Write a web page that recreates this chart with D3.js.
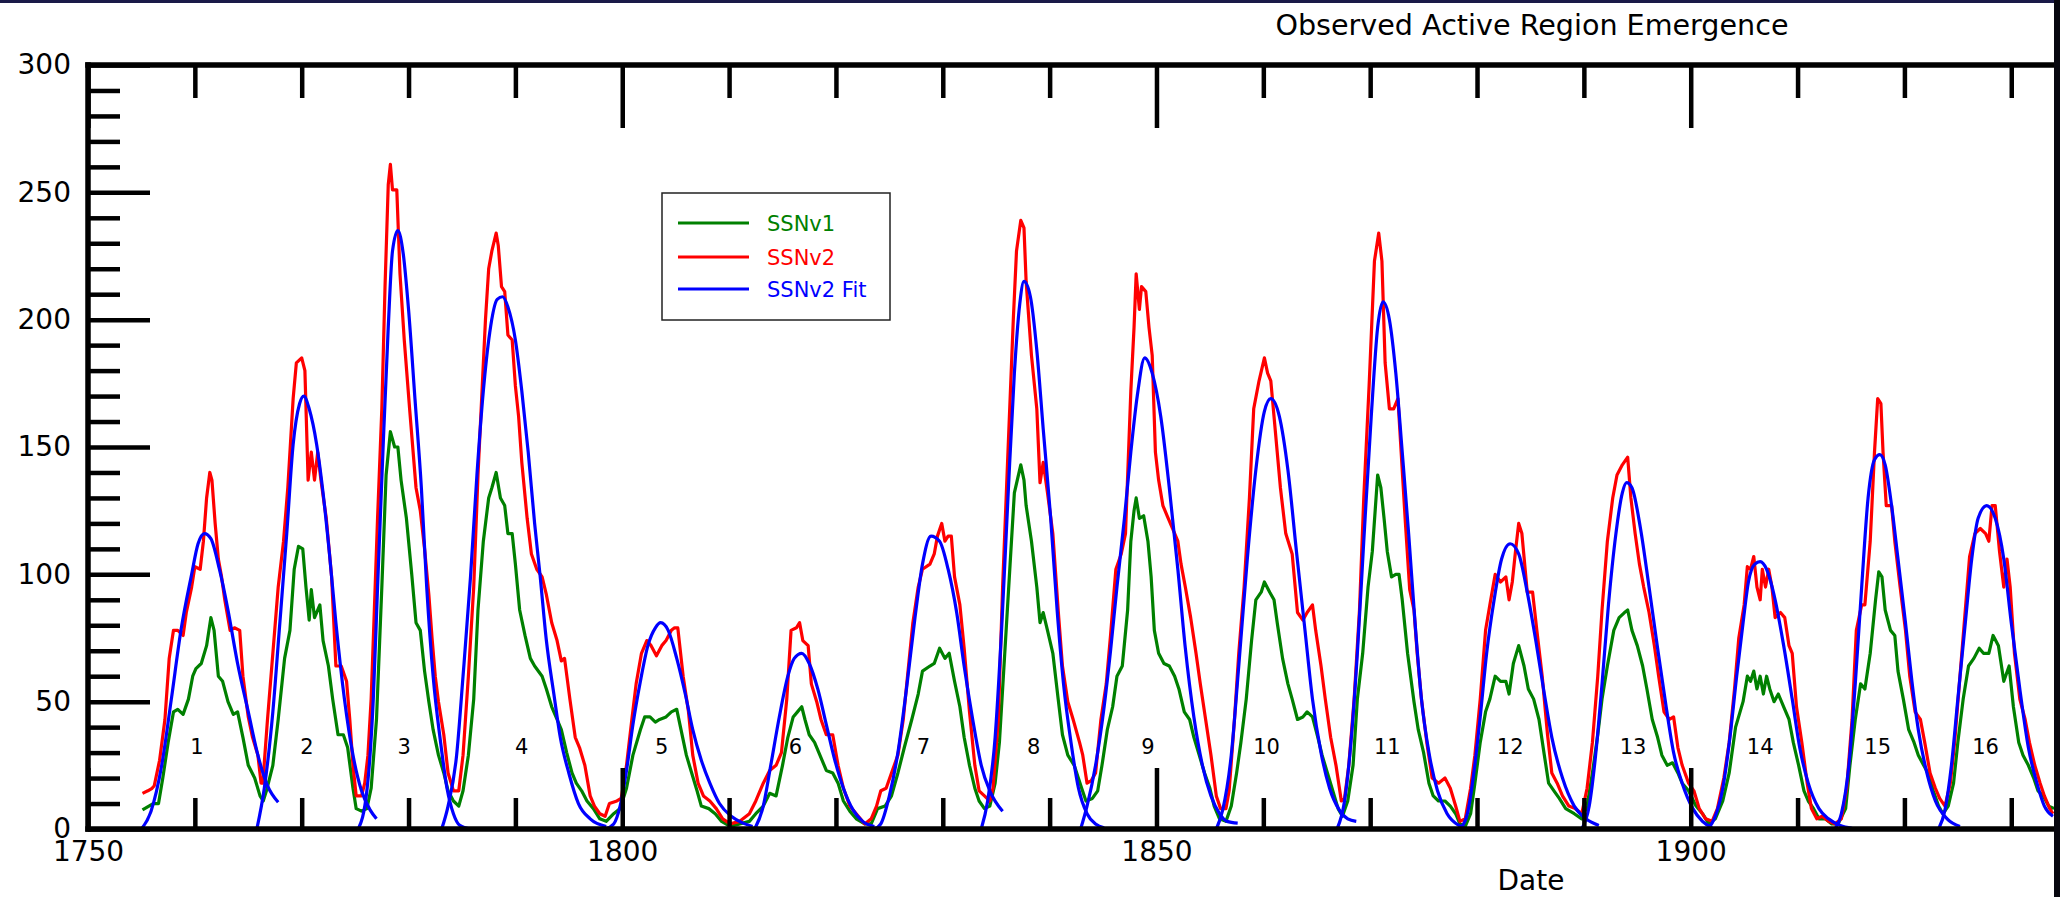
<!DOCTYPE html>
<html><head><meta charset="utf-8">
<script src="https://cdn.jsdelivr.net/npm/d3@7"></script>
<style>body{margin:0;background:#fff;overflow:hidden}svg{display:block}</style>
</head><body><svg id="c" width="2060" height="897"></svg>
<script>
// ---------------- DATA ----------------
const chartTitle = "Observed Active Region Emergence";
const xLabel = "Date";
const xMajorTicks = [1750, 1800, 1850, 1900];
const xMinorTicks = [1760,1770,1780,1790,1810,1820,1830,1840,1860,1870,1880,1890,1910,1920,1930];
const yMajorTicks = [0, 50, 100, 150, 200, 250, 300];
const yMinorTicks = [10,20,30,40,60,70,80,90,110,120,130,140,160,170,180,190,210,220,230,240,260,270,280,290];
const seriesNames = ["SSNv1", "SSNv2", "SSNv2 Fit"];
const cycleNumbers = [1,2,3,4,5,6,7,8,9,10,11,12,13,14,15,16];
const cycleLabelYears = [1760.2,1770.5,1779.6,1790.6,1803.7,1816.2,1828.2,1838.5,1849.2,1860.3,1871.6,1883.1,1894.6,1906.5,1917.5,1927.6];

// SSNv2 (red) [year, value]
const ssnv2 = [[1755.1,14],[1755.6,15],[1756.0,16],[1756.2,17],[1756.7,27],[1757.2,43],[1757.6,67],[1758.0,78],[1758.4,78],[1758.9,76],[1759.2,85],[1759.7,95],[1760.0,103],[1760.5,102],[1760.8,113],[1761.1,130],[1761.4,140],[1761.6,137],[1761.9,120],[1762.2,106],[1762.5,99],[1762.8,90],[1763.3,78],[1763.7,79],[1764.2,78],[1764.5,60],[1765.0,44],[1765.4,36],[1765.9,29],[1766.2,18],[1766.4,18],[1766.5,26],[1766.8,43],[1767.3,69],[1767.8,95],[1768.3,113],[1768.7,134],[1769.2,169],[1769.5,183],[1770.0,185],[1770.3,180],[1770.6,137],[1770.9,148],[1771.2,137],[1771.5,148],[1771.8,137],[1772.3,122],[1772.8,99],[1773.2,64],[1773.7,64],[1774.2,58],[1774.5,43],[1774.8,25],[1775.1,13],[1775.6,13],[1775.9,18],[1776.2,29],[1776.5,51],[1776.8,86],[1777.1,122],[1777.5,165],[1777.8,213],[1778.1,253],[1778.3,261],[1778.5,251],[1778.9,251],[1779.2,218],[1779.6,192],[1780.1,165],[1780.7,134],[1781.1,125],[1781.5,110],[1781.9,92],[1782.2,75],[1782.5,60],[1782.8,50],[1783.3,37],[1783.7,22],[1784.2,15],[1784.7,15],[1785.1,29],[1785.6,60],[1786.1,95],[1786.5,139],[1786.9,174],[1787.2,200],[1787.5,220],[1787.8,227],[1788.2,234],[1788.4,229],[1788.7,213],[1789.0,211],[1789.3,194],[1789.7,192],[1790.0,174],[1790.3,162],[1790.6,144],[1791.1,122],[1791.5,108],[1792.0,102],[1792.5,99],[1792.9,92],[1793.4,81],[1793.9,74],[1794.3,66],[1794.6,67],[1795.1,51],[1795.6,36],[1796.0,32],[1796.5,25],[1797.0,13],[1797.4,9],[1797.9,6],[1798.4,5],[1798.8,10],[1799.5,11],[1799.9,12],[1800.4,25],[1800.9,43],[1801.3,57],[1801.8,69],[1802.3,74],[1802.7,72],[1803.2,68],[1803.7,72],[1804.1,74],[1804.6,78],[1804.9,79],[1805.2,79],[1805.7,60],[1806.2,46],[1806.6,29],[1807.1,18],[1807.6,13],[1808.2,11],[1808.8,8],[1809.4,4],[1810.1,2],[1811.0,3],[1811.9,6],[1812.5,11],[1813.2,18],[1813.8,23],[1814.4,25],[1814.9,30],[1815.4,51],[1815.8,78],[1816.3,79],[1816.6,81],[1816.9,74],[1817.4,72],[1817.7,57],[1818.2,50],[1818.6,43],[1819.1,37],[1819.7,37],[1820.2,25],[1820.7,16],[1821.3,9],[1821.9,6],[1822.7,2],[1823.3,4],[1823.8,9],[1824.2,15],[1824.7,16],[1825.2,22],[1825.8,29],[1826.3,43],[1826.7,60],[1827.2,81],[1827.7,95],[1828.1,102],[1828.8,104],[1829.2,108],[1829.5,115],[1829.9,120],[1830.2,113],[1830.5,115],[1830.8,115],[1831.1,99],[1831.6,88],[1832.0,71],[1832.5,46],[1833.0,25],[1833.4,15],[1833.9,13],[1834.4,11],[1834.7,16],[1835.2,43],[1835.6,95],[1836.1,148],[1836.6,200],[1836.9,227],[1837.3,239],[1837.6,236],[1837.8,215],[1838.3,186],[1838.8,165],[1839.1,136],[1839.4,144],[1839.8,132],[1840.3,116],[1840.8,86],[1841.2,64],[1841.7,50],[1842.2,43],[1842.8,34],[1843.1,29],[1843.5,18],[1843.9,19],[1844.3,22],[1844.8,43],[1845.3,57],[1845.7,76],[1846.2,102],[1846.7,108],[1847.1,116],[1847.6,172],[1847.9,197],[1848.1,218],[1848.4,204],[1848.6,213],[1849.0,211],[1849.3,197],[1849.6,186],[1849.9,148],[1850.2,137],[1850.6,127],[1851.0,123],[1851.5,118],[1852.0,113],[1852.3,104],[1852.7,95],[1853.2,83],[1853.7,69],[1854.1,57],[1854.6,43],[1855.1,29],[1855.6,13],[1856.0,8],[1856.5,8],[1856.8,15],[1857.3,43],[1857.7,69],[1858.2,95],[1858.7,130],[1859.1,165],[1859.6,176],[1860.1,185],[1860.4,179],[1860.7,176],[1861.0,162],[1861.3,148],[1861.6,134],[1862.1,116],[1862.7,108],[1863.2,85],[1863.7,82],[1864.1,85],[1864.6,88],[1864.9,78],[1865.4,64],[1865.8,51],[1866.3,36],[1866.8,25],[1867.3,11],[1867.6,12],[1868.0,25],[1868.5,51],[1869.0,86],[1869.4,130],[1869.9,174],[1870.4,223],[1870.8,234],[1871.1,223],[1871.4,183],[1871.8,165],[1872.2,165],[1872.6,169],[1872.9,148],[1873.3,120],[1873.7,94],[1874.1,86],[1874.4,69],[1874.8,51],[1875.3,34],[1875.8,20],[1876.4,18],[1877.0,20],[1877.5,16],[1878.0,9],[1878.4,3],[1878.9,4],[1879.4,16],[1879.8,29],[1880.3,51],[1880.8,78],[1881.2,88],[1881.7,100],[1882.2,97],[1882.7,99],[1883.0,90],[1883.3,97],[1883.6,109],[1883.9,120],[1884.2,116],[1884.7,93],[1885.2,93],[1885.6,78],[1886.1,60],[1886.6,37],[1887.0,22],[1887.5,18],[1888.0,13],[1888.6,9],[1889.2,8],[1889.8,6],[1890.3,16],[1890.8,34],[1891.3,60],[1891.7,86],[1892.2,113],[1892.7,130],[1893.1,139],[1893.6,143],[1894.1,146],[1894.4,130],[1894.8,116],[1895.2,104],[1895.6,95],[1896.1,85],[1896.6,72],[1897.0,60],[1897.5,46],[1898.0,43],[1898.4,44],[1898.8,32],[1899.2,25],[1899.8,18],[1900.3,15],[1900.8,8],[1901.4,4],[1902.0,3],[1902.5,8],[1903.1,20],[1903.6,34],[1904.1,55],[1904.5,75],[1905.0,88],[1905.3,103],[1905.6,102],[1905.9,107],[1906.2,95],[1906.5,90],[1906.7,102],[1907.0,95],[1907.3,102],[1907.6,95],[1907.9,83],[1908.4,85],[1908.8,83],[1909.2,72],[1909.5,69],[1909.9,48],[1910.4,34],[1910.9,18],[1911.3,8],[1911.8,4],[1912.3,5],[1912.9,3],[1913.5,2],[1914.1,4],[1914.6,16],[1915.1,43],[1915.5,78],[1916.0,88],[1916.3,88],[1916.8,113],[1917.2,148],[1917.5,169],[1917.8,167],[1918.0,148],[1918.3,127],[1918.8,127],[1919.1,113],[1919.6,95],[1920.1,78],[1920.5,60],[1921.0,46],[1921.5,43],[1921.9,34],[1922.4,22],[1922.9,16],[1923.3,12],[1923.8,9],[1924.3,18],[1924.7,34],[1925.2,60],[1925.7,86],[1926.1,107],[1926.6,116],[1927.1,118],[1927.6,116],[1927.9,113],[1928.2,127],[1928.5,127],[1928.9,109],[1929.3,95],[1929.6,106],[1929.9,95],[1930.3,69],[1930.8,51],[1931.3,43],[1931.7,34],[1932.2,25],[1932.7,18],[1933.1,13],[1933.6,8],[1933.9,6]];

// SSNv1 (green) [year, value]
const ssnv1 = [[1755.1,7.5],[1756.1,10],[1756.6,10],[1757.0,20],[1757.5,34],[1758.0,46],[1758.4,47],[1758.9,45],[1759.4,51],[1759.8,60],[1760.1,63],[1760.6,65],[1761.1,72],[1761.5,83],[1761.8,78],[1762.2,60],[1762.6,58],[1763.1,50],[1763.6,45],[1764.0,46],[1764.5,36],[1765.0,25],[1765.6,20],[1766.1,13],[1766.4,11],[1766.7,15],[1767.3,25],[1767.8,43],[1768.4,67],[1768.9,78],[1769.3,102],[1769.7,111],[1770.1,110],[1770.4,95],[1770.7,82],[1770.9,94],[1771.2,83],[1771.7,88],[1772.0,74],[1772.5,64],[1772.9,51],[1773.4,37],[1773.9,37],[1774.3,32],[1774.8,16],[1775.1,8],[1775.6,7],[1776.1,8],[1776.5,16],[1777.0,43],[1777.5,95],[1777.9,139],[1778.3,156],[1778.7,150],[1779.0,150],[1779.3,137],[1779.8,122],[1780.3,100],[1780.7,81],[1781.1,78],[1781.5,62],[1781.9,50],[1782.3,39],[1782.8,29],[1783.3,22],[1783.7,15],[1784.2,11],[1784.7,9],[1785.1,15],[1785.6,29],[1786.1,51],[1786.5,86],[1787.0,113],[1787.5,130],[1787.8,134],[1788.2,140],[1788.6,130],[1789.0,127],[1789.3,116],[1789.7,116],[1790.0,104],[1790.4,86],[1790.9,76],[1791.4,67],[1791.8,64],[1792.5,60],[1792.9,55],[1793.4,48],[1793.9,43],[1794.3,39],[1794.8,30],[1795.3,22],[1795.7,18],[1796.2,15],[1796.7,11],[1797.3,8],[1797.9,4],[1798.5,3],[1799.2,6],[1799.8,8],[1800.4,16],[1801.0,29],[1801.7,39],[1802.1,44],[1802.6,44],[1803.1,42],[1803.5,43],[1804.1,44],[1804.6,46],[1805.1,47],[1805.5,39],[1806.0,29],[1806.5,22],[1807.0,15],[1807.4,9],[1808.1,8],[1808.7,6],[1809.3,3],[1810.1,1],[1811.0,2],[1811.9,3],[1812.5,6],[1813.2,9],[1813.8,14],[1814.4,13],[1815.0,25],[1815.5,36],[1816.0,44],[1816.4,46],[1816.8,48],[1817.1,43],[1817.5,37],[1818.0,34],[1818.5,29],[1819.1,23],[1819.7,22],[1820.2,18],[1820.7,11],[1821.3,7],[1821.9,4],[1822.7,2],[1823.3,2],[1823.9,8],[1824.6,9],[1825.2,13],[1825.8,22],[1826.4,32],[1827.1,43],[1827.7,53],[1828.1,62],[1828.8,64],[1829.2,65],[1829.7,71],[1830.2,67],[1830.6,69],[1831.1,58],[1831.6,48],[1832.0,36],[1832.5,25],[1833.0,16],[1833.4,11],[1833.9,8],[1834.4,9],[1834.9,18],[1835.3,34],[1835.8,69],[1836.3,104],[1836.7,132],[1837.3,143],[1837.6,137],[1837.8,127],[1838.3,113],[1838.8,95],[1839.1,81],[1839.4,85],[1839.8,78],[1840.3,69],[1840.8,51],[1841.2,37],[1841.7,29],[1842.3,25],[1843.0,16],[1843.4,11],[1844.0,12],[1844.5,15],[1844.9,25],[1845.4,39],[1845.9,48],[1846.3,60],[1846.8,64],[1847.3,86],[1847.6,113],[1847.9,125],[1848.1,130],[1848.4,122],[1848.8,123],[1849.2,113],[1849.5,99],[1849.8,78],[1850.2,69],[1850.7,65],[1851.2,64],[1851.7,60],[1852.1,55],[1852.6,46],[1853.1,43],[1853.5,36],[1854.0,29],[1854.5,22],[1855.0,16],[1855.4,9],[1855.9,4],[1856.5,3],[1857.0,9],[1857.5,22],[1857.9,34],[1858.4,51],[1858.9,74],[1859.3,90],[1859.8,93],[1860.1,97],[1860.6,93],[1861.0,90],[1861.3,81],[1861.8,67],[1862.3,57],[1862.7,51],[1863.2,43],[1863.7,44],[1864.1,46],[1864.6,44],[1865.1,36],[1865.5,29],[1866.0,22],[1866.5,15],[1867.0,8],[1867.4,5],[1867.9,11],[1868.4,25],[1868.8,51],[1869.3,69],[1869.8,95],[1870.2,109],[1870.7,139],[1871.0,134],[1871.3,122],[1871.6,109],[1872.0,99],[1872.4,100],[1872.7,100],[1873.0,90],[1873.5,69],[1874.1,50],[1874.5,39],[1875.0,30],[1875.5,18],[1875.9,13],[1876.4,11],[1877.0,11],[1877.5,9],[1878.0,6],[1878.4,2],[1878.9,1],[1879.4,6],[1879.8,18],[1880.3,34],[1880.8,46],[1881.2,51],[1881.7,60],[1882.2,58],[1882.7,58],[1883.0,53],[1883.4,65],[1883.9,72],[1884.4,64],[1884.8,55],[1885.3,51],[1885.8,43],[1886.3,29],[1886.7,18],[1887.2,15],[1887.7,12],[1888.3,8],[1889.1,6],[1889.8,4],[1890.3,9],[1890.8,22],[1891.3,37],[1891.7,51],[1892.2,64],[1892.8,78],[1893.3,83],[1893.8,85],[1894.1,86],[1894.5,78],[1895.0,72],[1895.5,64],[1895.9,55],[1896.4,43],[1896.9,36],[1897.3,29],[1897.8,25],[1898.3,26],[1898.8,22],[1899.2,18],[1899.8,15],[1900.5,9],[1901.1,6],[1901.7,2],[1902.3,4],[1903.0,11],[1903.6,22],[1904.2,40],[1904.9,50],[1905.3,60],[1905.6,58],[1905.9,62],[1906.2,55],[1906.5,60],[1906.8,53],[1907.1,60],[1907.4,55],[1907.8,50],[1908.2,53],[1908.7,48],[1909.2,43],[1909.6,34],[1910.1,25],[1910.6,15],[1911.0,11],[1911.5,8],[1912.0,4],[1912.6,4],[1913.2,2],[1913.8,2],[1914.5,8],[1914.9,25],[1915.4,43],[1915.9,57],[1916.3,55],[1916.8,69],[1917.3,90],[1917.6,101],[1917.9,99],[1918.2,86],[1918.7,78],[1919.1,76],[1919.4,62],[1919.9,51],[1920.4,39],[1920.9,34],[1921.3,29],[1921.8,25],[1922.2,22],[1922.7,15],[1923.2,9],[1923.6,6],[1924.1,9],[1924.6,18],[1925.0,34],[1925.5,51],[1926.0,64],[1926.5,67],[1927.0,71],[1927.4,69],[1927.9,69],[1928.3,76],[1928.8,72],[1929.3,58],[1929.8,64],[1930.2,48],[1930.7,34],[1931.1,29],[1931.6,25],[1932.1,20],[1932.5,15],[1933.0,13],[1933.5,9],[1934.0,8]];

// SSNv2 fit (blue), one curve per cycle [year, value]
const fitCycle1 = [[1755.0,0],[1755.9,7],[1756.9,25],[1757.8,51],[1758.7,78],[1759.7,100],[1760.3,112],[1760.9,116],[1761.5,114],[1762.3,102],[1763.1,86],[1764.0,65],[1765.0,46],[1765.9,29],[1766.8,17],[1767.8,10.5]];
const fitCycle2 = [[1765.8,0],[1766.5,16],[1767.3,46],[1767.9,78],[1768.6,116],[1769.2,151],[1769.8,167],[1770.2,170],[1770.7,165],[1771.4,151],[1772.0,132],[1772.6,108],[1773.2,81],[1774.0,51],[1774.8,29],[1775.6,15],[1776.4,7.5],[1777.0,4]];
const fitCycle3 = [[1775.3,0],[1776.1,15],[1776.7,51],[1777.1,95],[1777.6,148],[1778.1,197],[1778.5,227],[1779.0,235],[1779.5,226],[1780.0,204],[1780.6,169],[1781.2,134],[1781.7,95],[1782.3,60],[1783.0,34],[1783.6,16],[1784.2,6],[1784.8,1.4],[1785.8,0]];
const fitCycle4 = [[1783.1,0],[1783.7,9],[1784.5,29],[1785.1,60],[1785.8,99],[1786.4,139],[1787.0,172],[1787.6,195],[1788.3,208],[1788.8,209],[1789.3,205],[1790.0,192],[1790.6,172],[1791.2,148],[1791.8,120],[1792.3,100],[1792.9,74],[1793.6,53],[1794.2,36],[1795.0,22],[1795.9,10],[1797.0,4],[1798.5,1]];
const fitCycle5 = [[1798.4,0],[1799.2,2],[1799.8,9],[1800.4,23],[1801.0,41],[1801.7,58],[1802.4,72],[1803.1,79],[1803.6,81],[1804.3,78],[1805.1,67],[1805.9,53],[1806.6,39],[1807.4,27],[1808.2,18],[1809.1,10],[1810.2,5],[1811.3,2.3],[1812.2,1]];
const fitCycle6 = [[1812.4,0],[1813.2,9],[1813.9,25],[1814.7,44],[1815.5,60],[1816.1,67],[1816.8,69],[1817.5,65],[1818.3,55],[1819.1,41],[1819.9,27],[1820.7,16],[1821.6,7.5],[1822.5,3],[1823.6,1]];
const fitCycle7 = [[1823.6,0],[1824.2,2],[1825.0,13],[1825.8,30],[1826.6,55],[1827.4,83],[1828.1,104],[1828.9,115],[1829.7,113],[1830.5,102],[1831.3,85],[1832.0,64],[1832.8,43],[1833.6,25],[1834.4,15],[1835.6,7]];
const fitCycle8 = [[1833.6,0],[1834.2,11],[1834.9,36],[1835.5,78],[1836.1,130],[1836.7,179],[1837.2,206],[1837.6,215],[1838.2,209],[1838.8,188],[1839.4,157],[1840.1,122],[1840.7,86],[1841.3,57],[1842.0,34],[1842.7,16],[1843.5,6],[1844.3,2],[1845.1,0.5]];
const fitCycle9 = [[1842.9,0],[1843.5,9],[1844.3,25],[1845.1,48],[1845.7,70],[1846.3,95],[1847.0,122],[1847.6,148],[1848.2,170],[1848.9,185],[1849.6,179],[1850.4,162],[1851.2,134],[1852.0,102],[1852.7,71],[1853.5,44],[1854.3,25],[1855.1,13],[1855.9,6],[1856.6,3],[1857.6,2.3]];
const fitCycle10 = [[1855.6,0],[1856.2,7.5],[1857.0,29],[1857.7,64],[1858.5,106],[1859.3,141],[1860.1,164],[1860.7,169],[1861.5,162],[1862.3,141],[1863.1,109],[1863.9,78],[1864.6,51],[1865.4,30],[1866.2,16],[1867.1,7.5],[1867.9,4],[1868.7,3]];
const fitCycle11 = [[1866.9,0],[1867.6,11],[1868.2,34],[1868.8,69],[1869.4,113],[1870.1,162],[1870.7,197],[1871.2,207],[1871.8,200],[1872.4,179],[1873.0,148],[1873.6,116],[1874.2,81],[1874.8,51],[1875.5,30],[1876.3,15],[1877.2,6],[1878.3,1.4],[1878.8,0.5]];
const fitCycle12 = [[1878.4,0],[1879.1,6],[1879.7,22],[1880.3,44],[1880.9,69],[1881.6,90],[1882.3,106],[1883.1,112],[1883.9,108],[1884.7,93],[1885.5,74],[1886.3,53],[1887.0,36],[1888.0,20],[1889.1,9],[1890.2,4],[1891.4,1.4]];
const fitCycle13 = [[1889.8,0],[1890.5,9],[1891.1,29],[1891.7,57],[1892.3,88],[1893.0,116],[1893.6,132],[1894.0,136],[1894.5,134],[1895.3,118],[1896.1,95],[1896.9,71],[1897.7,48],[1898.4,30],[1899.2,18],[1900.2,8],[1901.1,3],[1902.0,0.5]];
const fitCycle14 = [[1901.6,0],[1902.2,4],[1903.0,16],[1903.7,37],[1904.3,60],[1904.9,81],[1905.4,97],[1906.0,104],[1906.5,105],[1907.1,102],[1907.9,90],[1908.7,72],[1909.5,51],[1910.2,32],[1911.0,18],[1912.0,8],[1912.9,4],[1914.0,1.4],[1915.1,0.3]];
const fitCycle15 = [[1913.5,0],[1914.1,6],[1914.8,25],[1915.4,57],[1916.0,95],[1916.6,130],[1917.2,145],[1917.7,147],[1918.2,143],[1918.8,127],[1919.4,106],[1920.1,81],[1920.7,58],[1921.3,39],[1922.1,22],[1922.9,11],[1924.0,4],[1925.2,1]];
const fitCycle16 = [[1923.2,0],[1923.8,7.5],[1924.4,25],[1925.0,51],[1925.7,81],[1926.3,106],[1926.9,122],[1927.7,127],[1928.5,122],[1929.3,106],[1930.0,81],[1930.8,55],[1931.6,32],[1932.4,18],[1933.1,9],[1933.9,5]];
const fitCycles = [fitCycle1,fitCycle2,fitCycle3,fitCycle4,fitCycle5,fitCycle6,fitCycle7,fitCycle8,fitCycle9,fitCycle10,fitCycle11,fitCycle12,fitCycle13,fitCycle14,fitCycle15,fitCycle16];

// ---------------- LAYOUT ----------------
const W = 2060, H = 897;
const L = 88, R = 2054, T = 65, B = 829;
const FONT = "DejaVu Sans, Verdana, sans-serif";
const colors = {v1: "#008000", v2: "#ff0000", fit: "#0000ff"};

const svg = d3.select("#c");
svg.append("rect").attr("width", W).attr("height", H).attr("fill", "#fff");

const x = d3.scaleLinear().domain([1750, 1934]).range([L, R]);
const y = d3.scaleLinear().domain([0, 300]).range([B, T]);

svg.append("defs").append("clipPath").attr("id", "plotclip")
  .append("rect").attr("x", L).attr("y", T - 2).attr("width", R - L).attr("height", B - T + 2);

const line = d3.line().x(d => x(d[0])).y(d => y(d[1]));
const fitLine = d3.line().x(d => x(d[0])).y(d => y(d[1])).curve(d3.curveMonotoneX);

const plot = svg.append("g").attr("clip-path", "url(#plotclip)");
plot.append("path").datum(ssnv1).attr("d", line)
  .attr("fill", "none").attr("stroke", colors.v1).attr("stroke-width", 3.2).attr("stroke-linejoin", "round");
plot.append("path").datum(ssnv2).attr("d", line)
  .attr("fill", "none").attr("stroke", colors.v2).attr("stroke-width", 3.2).attr("stroke-linejoin", "round");
plot.selectAll("path.fit").data(fitCycles).enter().append("path").attr("class", "fit")
  .attr("d", fitLine).attr("fill", "none").attr("stroke", colors.fit).attr("stroke-width", 3.2);

// cycle numbers
svg.append("g").selectAll("text").data(cycleNumbers).enter().append("text")
  .attr("x", (d, i) => x(cycleLabelYears[i])).attr("y", 754)
  .attr("text-anchor", "middle").attr("font-family", FONT).attr("font-size", 21)
  .attr("fill", "#000").text(d => d);

// ---------------- AXES ----------------
function styleAxis(g, w) {
  g.select(".domain").remove();
  g.selectAll(".tick line").attr("stroke", "#000").attr("stroke-width", w);
  g.selectAll(".tick text").attr("font-family", FONT).attr("font-size", 28).attr("fill", "#000");
}
// bottom
svg.append("g").attr("transform", `translate(0,${B})`)
  .call(d3.axisBottom(x).tickValues(xMinorTicks).tickSize(-31).tickFormat(""))
  .call(g => styleAxis(g, 4.5));
svg.append("g").attr("transform", `translate(0,${B})`)
  .call(d3.axisBottom(x).tickValues(xMajorTicks).tickSize(-61).tickPadding(12).tickFormat(d3.format("d")))
  .call(g => styleAxis(g, 4.5));
// top
svg.append("g").attr("transform", `translate(0,${T})`)
  .call(d3.axisTop(x).tickValues(xMinorTicks).tickSize(-33).tickFormat(""))
  .call(g => styleAxis(g, 4.5));
svg.append("g").attr("transform", `translate(0,${T})`)
  .call(d3.axisTop(x).tickValues(xMajorTicks).tickSize(-63).tickFormat(""))
  .call(g => styleAxis(g, 4.5));
// left
svg.append("g").attr("transform", `translate(${L},0)`)
  .call(d3.axisLeft(y).tickValues(yMinorTicks).tickSize(-32).tickFormat(""))
  .call(g => styleAxis(g, 4.5));
svg.append("g").attr("transform", `translate(${L},0)`)
  .call(d3.axisLeft(y).tickValues(yMajorTicks).tickSize(-62).tickPadding(17).tickFormat(d3.format("d")))
  .call(g => styleAxis(g, 4.5));

// frame spines
const spine = svg.append("g").attr("stroke", "#000").attr("stroke-width", 5.5).attr("stroke-linecap", "square");
spine.append("line").attr("x1", L).attr("x2", R + 4).attr("y1", T).attr("y2", T);
spine.append("line").attr("x1", L).attr("x2", R + 4).attr("y1", B).attr("y2", B);
spine.append("line").attr("x1", L).attr("x2", L).attr("y1", T).attr("y2", B);

// titles
svg.append("text").attr("x", 1532).attr("y", 35).attr("text-anchor", "middle")
  .attr("font-family", FONT).attr("font-size", 28.6).attr("fill", "#000").text(chartTitle);
svg.append("text").attr("x", 1531).attr("y", 890).attr("text-anchor", "middle")
  .attr("font-family", FONT).attr("font-size", 28).attr("fill", "#000").text(xLabel);

// legend
const leg = svg.append("g");
leg.append("rect").attr("x", 662).attr("y", 193).attr("width", 228).attr("height", 127)
  .attr("fill", "#fff").attr("stroke", "#222").attr("stroke-width", 1.5);
const legColors = [colors.v1, colors.v2, colors.fit];
const legY = [223, 257, 289];
seriesNames.forEach((n, i) => {
  leg.append("line").attr("x1", 678).attr("x2", 749).attr("y1", legY[i]).attr("y2", legY[i])
    .attr("stroke", legColors[i]).attr("stroke-width", 3);
  leg.append("text").attr("x", 767).attr("y", legY[i]).attr("dy", "0.36em")
    .attr("font-family", FONT).attr("font-size", 21).attr("fill", legColors[i]).text(n);
});

// screenshot borders
svg.append("rect").attr("x", 0).attr("y", 0).attr("width", W).attr("height", 3).attr("fill", "#1a1a48");
svg.append("rect").attr("x", R).attr("y", 0).attr("width", W - R).attr("height", H).attr("fill", "#07070f");
</script></body></html>
